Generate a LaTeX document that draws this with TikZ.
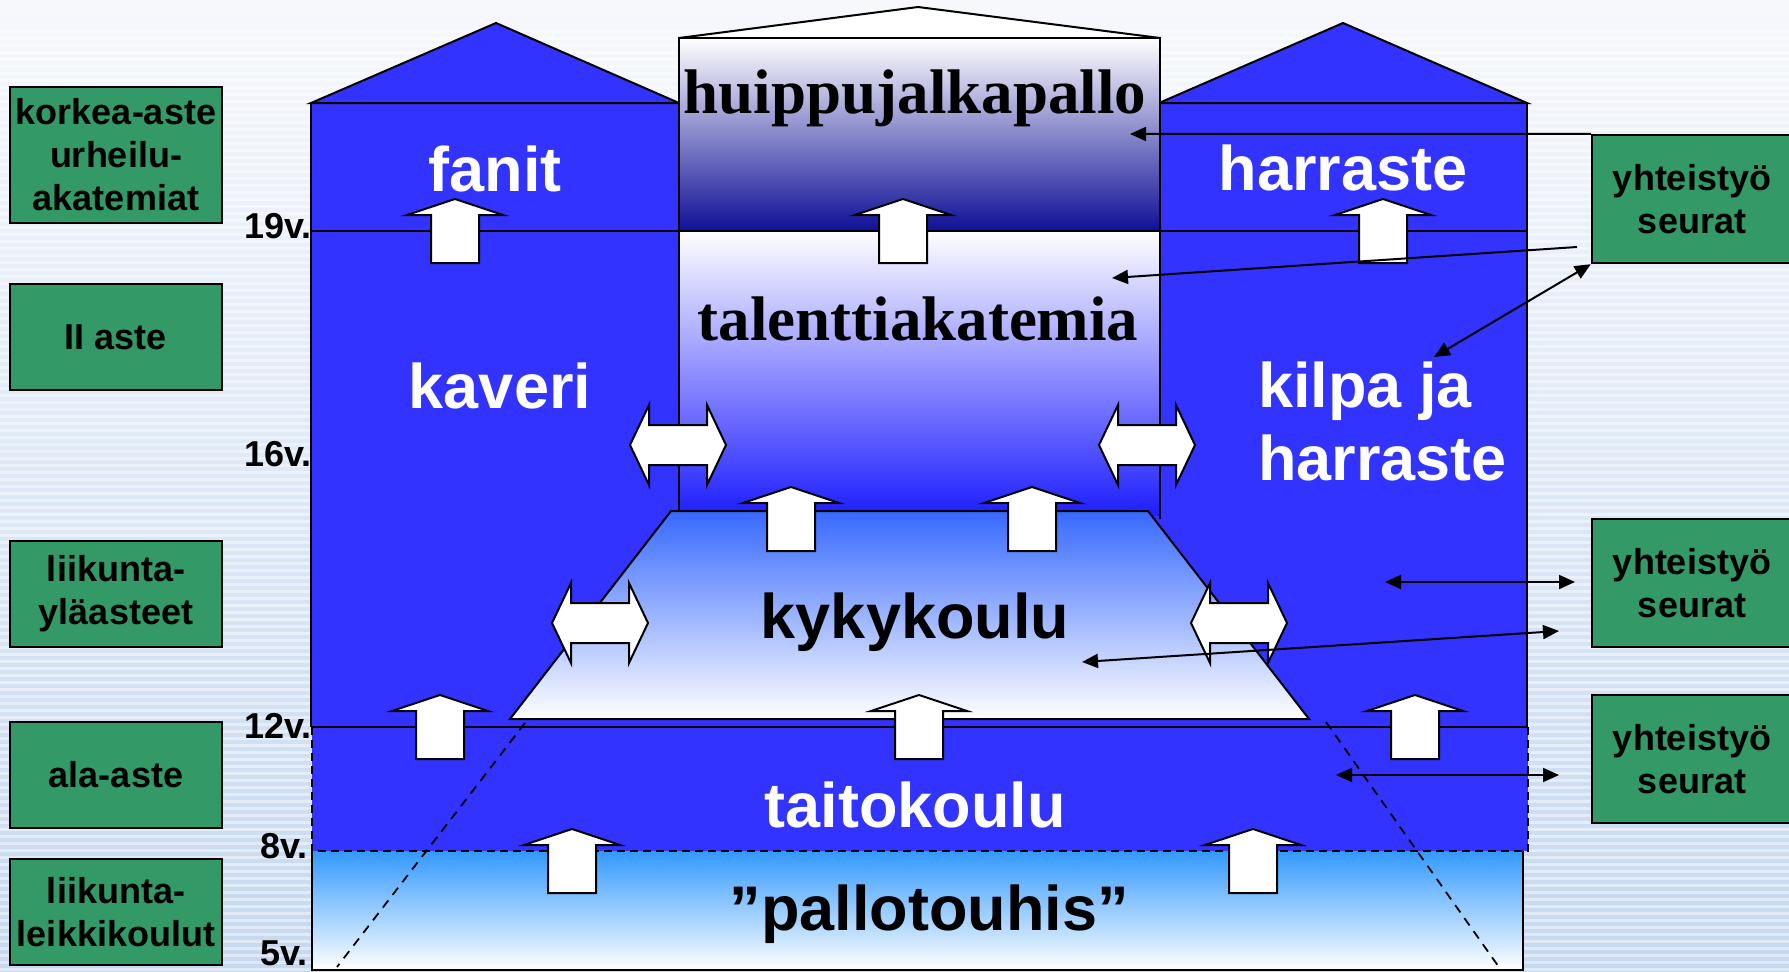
\documentclass[tikz,border=0pt]{standalone}
\usepackage{fontspec}
\setmainfont{Liberation Sans}
\newfontfamily\timesfont{Liberation Serif}
\usetikzlibrary{arrows.meta}
\definecolor{bgtop}{RGB}{246,248,252}
\definecolor{bgbot}{RGB}{198,216,240}
\definecolor{towerblue}{RGB}{51,51,255}
\definecolor{gboxgreen}{RGB}{51,153,102}
\definecolor{navy}{RGB}{15,15,150}
\definecolor{lightb}{RGB}{51,153,255}
\definecolor{kykytop}{RGB}{55,105,255}
\definecolor{kykymid}{RGB}{165,175,250}
\definecolor{talentbot}{RGB}{30,30,255}
\definecolor{talentmid}{RGB}{190,190,255}
\definecolor{huipmid}{RGB}{205,205,225}
\tikzset{
  outl/.style={draw=black, line width=2pt},
  gbox/.style={draw=black, line width=2.5pt, fill=gboxgreen, align=center,
    font=\fontsize{36}{43}\selectfont\bfseries, inner sep=0pt},
  agelbl/.style={anchor=base east, font=\fontsize{36}{40}\selectfont\bfseries, inner sep=0pt},
  bigwhite/.style={text=white, font=\fontsize{63}{73}\selectfont\bfseries, inner sep=0pt},
  bigblack/.style={text=black, font=\fontsize{63}{73}\selectfont\bfseries, inner sep=0pt},
  bigserif/.style={text=black, font=\fontsize{63}{73}\selectfont\timesfont\bfseries, inner sep=0pt},
  blockarrow/.style={fill=white, draw=black, line width=2pt, line join=miter},
  conn/.style={draw=black, line width=2pt, -{Triangle[length=16pt,width=14pt]}},
  conn2/.style={draw=black, line width=2pt, {Triangle[length=16pt,width=14pt]}-{Triangle[length=16pt,width=14pt]}},
  diag/.style={draw=black, line width=1.8pt, dash pattern=on 9pt off 7pt},
  dashedge/.style={draw=black, line width=2pt, dash pattern=on 8pt off 5pt},
  pics/uparr/.style={code={\draw[blockarrow] (0,-32) -- (48,-16) -- (24,-16) -- (24,32) -- (-24,32) -- (-24,-16) -- (-48,-16) -- cycle;}},
  pics/lrarr/.style={code={\draw[blockarrow] (-48,0) -- (-29,-40) -- (-29,-20) -- (29,-20) -- (29,-40) -- (48,0) -- (29,40) -- (29,20) -- (-29,20) -- (-29,40) -- cycle;}},
}
\begin{document}
\begin{tikzpicture}[x=1pt,y=-1pt]
\useasboundingbox (0,0) rectangle (1789,972);
% background
\shade[top color=bgtop, bottom color=bgbot] (0,0) rectangle (1789,972);
\foreach \yy in {30,37,...,972} \fill[white,opacity=0.45] (0,\yy) rectangle (1789,\yy+2.5);
% pallotouhis band
\shade[top color=lightb, bottom color=white] (312,851) rectangle (1523,970);
\draw[outl] (312,851) -- (312,970) -- (1523,970) -- (1523,851);
% taitokoulu band
\fill[towerblue] (312,727) rectangle (1528,851);
\draw[dashedge] (312,727) -- (312,851) -- (1528,851) -- (1528,727);
% blue body above 12v
\fill[towerblue] (311,103) rectangle (1527,727);
% towers
\filldraw[outl, fill=towerblue] (311,103) -- (496,23) -- (679,103) -- cycle;
\draw[outl] (679,103) -- (311,103) -- (311,727);
\filldraw[outl, fill=towerblue] (1159,103) -- (1343,23) -- (1527,103) -- cycle;
\draw[outl] (1159,103) -- (1527,103) -- (1527,727);
% centre column
\filldraw[outl, fill=white] (679,38) -- (918,7) -- (1160,38) -- cycle;
\shade[top color=white, middle color=huipmid, bottom color=navy] (679,38) rectangle (1160,231);
\draw[outl] (679,38) rectangle (1160,231);
\shade[top color=white, middle color=talentmid, bottom color=talentbot] (679,231) rectangle (1160,515);
\draw[outl] (679,231) -- (679,515);
\draw[outl] (1160,231) -- (1160,519);
% kykykoulu trapezoid
\shade[top color=kykytop, middle color=kykymid, bottom color=white] (671,511) -- (1148,511) -- (1309,719) -- (510,719) -- cycle;
\draw[outl] (671,511) -- (1148,511) -- (1309,719) -- (510,719) -- cycle;
% age lines
\draw[outl] (311,231) -- (1527,231);
\draw[outl] (311,727) -- (1527,727);
% block arrows
\pic at (455,231) {uparr};
\pic at (903,231) {uparr};
\pic at (1383,231) {uparr};
\pic at (791,519) {uparr};
\pic at (1032,519) {uparr};
\pic at (440,727) {uparr};
\pic at (919,727) {uparr};
\pic at (1415,727) {uparr};
\pic at (572,861) {uparr};
\pic at (1253,861) {uparr};
\pic at (678,445) {lrarr};
\pic at (1147,445) {lrarr};
\pic at (600,623) {lrarr};
\pic at (1239,623) {lrarr};
% big texts
\node[bigserif, anchor=base] (hp) at (915,113) {huippujalkapallo};
\node[bigserif, anchor=base] (ta) at (918,340) {talenttiakatemia};
\node[bigwhite, anchor=base] (fa) at (495,191) {fanit};
\node[bigwhite, anchor=base] (ha) at (1343,190) {harraste};
\node[bigwhite, anchor=base] (ka) at (500,408) {kaveri};
\node[bigwhite, anchor=base west] (kh1) at (1258,407) {kilpa ja};
\node[bigwhite, anchor=base west] (kh2) at (1258,480) {harraste};
\node[bigblack, anchor=base] (ky) at (915,638) {kykykoulu};
\node[bigwhite, anchor=base] (tk) at (915,827) {taitokoulu};
\node[bigblack, anchor=base] (pt) at (929,930) {”pallotouhis”};
% age labels
\node[agelbl] (a19) at (312,238) {19v.};
\node[agelbl] (a16) at (312,466) {16v.};
\node[agelbl] (a12) at (312,738) {12v.};
\node[agelbl] (a8) at (308,858) {8v.};
\node[agelbl] (a5) at (308,965) {5v.};
% green boxes left
\node[gbox, minimum width=212pt, minimum height=136pt] (k1) at (116,155) {korkea-aste\\urheilu-\\akatemiat};
\node[gbox, minimum width=212pt, minimum height=106pt] (k2) at (116,337) {II aste};
\node[gbox, minimum width=212pt, minimum height=106pt] (k3) at (116,594) {liikunta-\\yläasteet};
\node[gbox, minimum width=212pt, minimum height=106pt] (k4) at (116,775) {ala-aste};
\node[gbox, minimum width=212pt, minimum height=106pt] (k5) at (116,912) {liikunta-\\leikkikoulut};
% green boxes right
\node[gbox, minimum width=200pt, minimum height=128pt] (y1) at (1692,199) {yhteistyö\\seurat};
\node[gbox, minimum width=200pt, minimum height=128pt] (y2) at (1692,583) {yhteistyö\\seurat};
\node[gbox, minimum width=200pt, minimum height=128pt] (y3) at (1692,759) {yhteistyö\\seurat};
% connectors
\coordinate (c1e) at (1130,134);
\draw[conn] (y1.north west) -- (c1e);
\coordinate (c2s) at (1577,247);
\coordinate (c2e) at (1112,278);
\draw[conn] (c2s) -- (c2e);
\coordinate (c3e) at (1434,357);
\draw[conn2] (y1.south west) -- (c3e);
\coordinate (c4s) at (1385,582);
\coordinate (c4e) at (1575,582);
\draw[conn2] (c4s) -- (c4e);
\coordinate (c5s) at (1082,662);
\coordinate (c5e) at (1559,631);
\draw[conn2] (c5s) -- (c5e);
\coordinate (c6s) at (1336,775);
\coordinate (c6e) at (1559,775);
\draw[conn2] (c6s) -- (c6e);
% dashed diagonals
\coordinate (dl1) at (525,723);
\coordinate (dl2) at (337,967);
\draw[diag] (dl1) -- (dl2);
\coordinate (dr1) at (1326,722);
\coordinate (dr2) at (1501,970);
\draw[diag] (dr1) -- (dr2);
\end{tikzpicture}
\end{document}
